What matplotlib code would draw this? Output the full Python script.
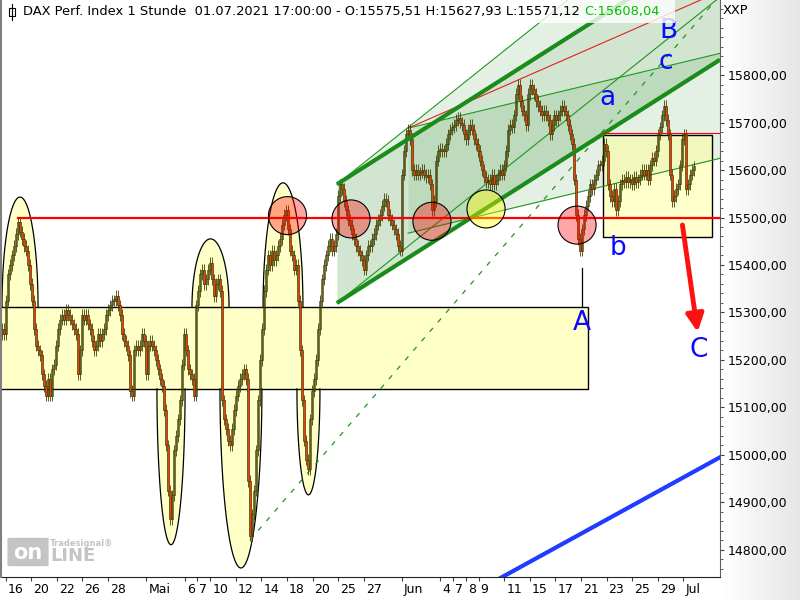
import numpy as np
import matplotlib.pyplot as plt
from matplotlib.patches import Ellipse, Polygon, Rectangle, FancyBboxPatch
from matplotlib.lines import Line2D
from matplotlib.transforms import offset_copy

# closes, one value every ~1.5 trading hours (16.04. - 01.07.2021)
closes = [
    15255, 15265, 15255, 15325, 15380, 15400, 15420, 15440, 15465, 15490,
    15470, 15455, 15440, 15430, 15400, 15360, 15325, 15265, 15230, 15220,
    15210, 15170, 15145, 15125, 15160, 15125, 15180, 15190, 15230, 15265,
    15285, 15295, 15285, 15305, 15295, 15285, 15275, 15265, 15255, 15170,
    15220, 15295, 15285, 15295, 15275, 15265, 15240, 15220, 15230, 15255,
    15240, 15255, 15265, 15295, 15305, 15315, 15325, 15325, 15335, 15315,
    15295, 15255, 15240, 15230, 15210, 15135, 15125, 15220, 15230, 15220,
    15230, 15255, 15240, 15170, 15230, 15240, 15230, 15220, 15200, 15180,
    15160, 15145, 15095, 15020, 14925, 14865, 14915, 15010, 15040, 15075,
    15115, 15190, 15255, 15220, 15180, 15170, 15160, 15125, 15315, 15345,
    15380, 15390, 15360, 15370, 15390, 15405, 15370, 15335, 15360, 15370,
    15345, 15115, 15075, 15055, 15030, 15020, 15055, 15095, 15125, 15145,
    15160, 15170, 15180, 15160, 14945, 14830, 14875, 14925, 15010, 15115,
    15200, 15265, 15345, 15390, 15420, 15400, 15430, 15410, 15420, 15440,
    15455, 15485, 15505, 15515, 15475, 15430, 15420, 15390, 15400, 15325,
    15220, 15115, 15030, 14990, 14970, 15075, 15135, 15160, 15200, 15265,
    15325, 15370, 15400, 15420, 15440, 15455, 15430, 15440, 15465, 15545,
    15570, 15560, 15535, 15515, 15495, 15485, 15465, 15455, 15440, 15430,
    15420, 15410, 15390, 15420, 15440, 15440, 15455, 15465, 15485, 15495,
    15505, 15525, 15540, 15535, 15505, 15495, 15485, 15475, 15465, 15440,
    15430, 15590, 15640, 15675, 15685, 15665, 15600, 15590, 15600, 15590,
    15595, 15600, 15590, 15585, 15590, 15570, 15515, 15535, 15620, 15640,
    15645, 15640, 15640, 15655, 15675, 15685, 15690, 15695, 15705, 15710,
    15700, 15695, 15675, 15665, 15685, 15695, 15685, 15665, 15655, 15640,
    15620, 15600, 15585, 15575, 15580, 15570, 15590, 15570, 15580, 15590,
    15600, 15590, 15610, 15640, 15685, 15695, 15690, 15715, 15760, 15780,
    15745, 15725, 15715, 15695, 15760, 15780, 15770, 15760, 15745, 15735,
    15725, 15715, 15725, 15715, 15705, 15675, 15695, 15715, 15705, 15715,
    15725, 15735, 15725, 15715, 15695, 15675, 15655, 15580, 15505, 15455,
    15430, 15475, 15505, 15525, 15545, 15570, 15560, 15580, 15590, 15610,
    15610, 15620, 15655, 15640, 15570, 15545, 15535, 15560, 15515, 15535,
    15570, 15580, 15575, 15585, 15575, 15580, 15570, 15585, 15575, 15580,
    15590, 15600, 15590, 15600, 15580, 15610, 15625, 15620, 15640, 15675,
    15690, 15715, 15735, 15705, 15675, 15590, 15535, 15545, 15560, 15570,
    15610, 15665, 15675, 15560, 15570, 15590, 15600, 15608,
]

# x axis in trading days counted from 16.04.
day_ticks = [0, 2, 4, 6, 8, 11, 14, 15, 16, 18, 20, 22, 24, 26, 28,
             31, 34, 35, 36, 37, 39, 41, 43, 45, 47, 49, 51, 53]
day_labels = ['16', '20', '22', '26', '28', 'Mai', '6', '7', '10', '12', '14', '18', '20', '25', '27',
              'Jun', '4', '7', '8', '9', '11', '15', '17', '21', '23', '25', '29', 'Jul']
price_ticks = list(range(14800, 15801, 100))

header = 'DAX Perf. Index 1 Stunde  01.07.2021 17:00:00 - O:15575,51 H:15627,93 L:15571,12 '
header_close = 'C:15608,04'

# drawings (day, price)
support = 15500
zone_top, zone_bottom, zone_end = 15311, 15139, 45.55
bumps_up = [(1.12, 1.41, 15543), (16.02, 1.45, 15455), (21.69, 1.56, 15573)]
bumps_down = [(12.93, 1.10, 14811), (18.40, 1.64, 14762), (23.68, 0.90, 14916)]
red_circles = [(22.04, 15504), (27.01, 15497), (33.34, 15492), (44.69, 15484)]
yellow_circles = [(37.57, 15518)]
channel_start, channel_low, channel_width, channel_slope = 25.91, 15320, 250, 17.1
fan_slope = 21.5
fork_start, fork_top, fork_bottom, fork_slope, fork_red_slope = 31.47, 15688, 15467, 6.46, 11.8
dash_start, dash_price, dash_slope = 19.11, 14821, 31.2
box_b = (46.72, 55.24, 15459, 15674)
blue_start, blue_price, blue_slope = 38.5, 14738, 14.8
wave_labels = [('B', 51.8, 15893), ('c', 51.65, 15827), ('a', 47.07, 15752),
               ('b', 47.89, 15436), ('A', 45.08, 15278), ('C', 54.23, 15221)]

X0, X1 = -0.446, 55.87
Y0, Y1 = 14743, 15958
bar_step = 0.1564

fig = plt.figure(figsize=(8, 6), dpi=100)
bg = fig.add_axes([0, 0, 1, 1], zorder=-10)
grad = np.ones((2, 800))
grad[:, 720:] = np.linspace(1.0, 0.9, 80)
bg.imshow(grad, extent=[0, 1, 0, 1], aspect='auto', cmap='gray', vmin=0, vmax=1)
bg.axis('off')

ax = fig.add_axes([0, 23 / 600, 0.9, 577 / 600])
ax.set_facecolor('white')
ax.set_xlim(X0, X1)
ax.set_ylim(Y0, Y1)

# yellow zone and half ellipses
ax.add_patch(Rectangle((X0, zone_bottom), zone_end - X0, zone_top - zone_bottom,
                       facecolor='#ffffc8', edgecolor='black', lw=1, zorder=1.2))
t = np.linspace(0, np.pi, 80)
for cx, hw, tip in bumps_up:
    xs, ys = cx + hw * np.cos(t), zone_top + (tip - zone_top) * np.sin(t)
    ax.add_patch(Polygon(np.column_stack([xs, ys]), facecolor='#ffffc8', edgecolor='none', zorder=1.1))
    ax.plot(xs, ys, color='black', lw=0.9, zorder=1.3)
for cx, hw, tip in bumps_down:
    xs, ys = cx + hw * np.cos(t), zone_bottom - (zone_bottom - tip) * np.sin(t)
    ax.add_patch(Polygon(np.column_stack([xs, ys]), facecolor='#ffffc8', edgecolor='none', zorder=1.1))
    ax.plot(xs, ys, color='black', lw=0.9, zorder=1.3)

# green channel and fans
green = '#2e8b2e'
xg = np.linspace(channel_start, X1, 200)
low = channel_low + channel_slope * (xg - channel_start)
up = low + channel_width
outer = channel_low + channel_width + fan_slope * (xg - channel_start)
fan2 = channel_low + fan_slope * (xg - channel_start)
ax.fill_between(xg, low, up, color=green, alpha=0.22, lw=0, zorder=1.5)
ax.fill_between(xg, up, outer, color=green, alpha=0.12, lw=0, zorder=1.5)
xf = np.linspace(fork_start, X1, 200)
f_top = fork_top + fork_slope * (xf - fork_start)
f_bot = fork_bottom + fork_slope * (xf - fork_start)
ax.fill_between(xf, f_bot, f_top, color=green, alpha=0.12, lw=0, zorder=1.5)

ax.add_patch(Rectangle((box_b[0], box_b[2]), box_b[1] - box_b[0], box_b[3] - box_b[2],
                       facecolor='#ffff99', alpha=0.5, edgecolor='none', zorder=1.6))
ax.add_patch(Rectangle((box_b[0], box_b[2]), box_b[1] - box_b[0], box_b[3] - box_b[2],
                       facecolor='none', edgecolor='black', lw=1, zorder=1.7))

ax.plot(xg, outer, color='#1e961e', lw=0.8, zorder=2.5)
ax.plot(xg, fan2, color='#1e961e', lw=0.8, zorder=2.5)
ax.plot(xf, f_top, color='#1e961e', lw=0.8, zorder=2.5)
ax.plot(xf, f_bot, color='#1e961e', lw=0.8, zorder=2.5)
ax.plot(xf, fork_top + fork_red_slope * (xf - fork_start), color='#e02020', lw=0.8, zorder=2.5)
xd = np.linspace(dash_start, X1, 200)
ax.plot(xd, dash_price + dash_slope * (xd - dash_start), color='#1e961e', lw=0.9,
        ls=(0, (4, 6)), zorder=2.5)

# candles
c = np.array(closes, dtype=float)
o = np.concatenate([[c[0]], c[:-1]])
x = X0 + bar_step * np.arange(len(c))
hi, lo = np.maximum(o, c), np.minimum(o, c)
edge = '#403f00'
wick = 12
ax.vlines(x, lo - wick, hi + wick, color=edge, lw=0.6, zorder=3)
rising = c >= o
body = np.maximum(hi - lo, 3)
ax.bar(x[rising], body[rising], bottom=lo[rising], width=0.2,
       facecolor='none', edgecolor=edge, lw=0.5, zorder=3.1)
ax.bar(x[~rising], body[~rising], bottom=lo[~rising], width=0.2,
       facecolor='#f23c0c', edgecolor=edge, lw=0.5, zorder=3.2)

# thick channel lines, support, markers
ax.plot(xg, low, color='#1a8c1a', lw=3, zorder=4, solid_capstyle='butt')
ax.plot(xg, up, color='#1a8c1a', lw=3, zorder=4, solid_capstyle='butt')
ax.plot([0.962, X1], [support, support], color='#ff0000', lw=1.6, zorder=4)
ax.plot([box_b[0], X1], [box_b[3] + 4, box_b[3] + 4], color='#ff0000', lw=0.8, zorder=4)
ax.plot([45.08, 45.08], [zone_top, 15394], color='black', lw=0.9, zorder=4)
for cx, cy in red_circles:
    ax.add_patch(Ellipse((cx, cy), 2 * 1.49, 80, facecolor=(1, 0, 0, 0.35), edgecolor='black', lw=0.8, zorder=4.5))
for cx, cy in yellow_circles:
    ax.add_patch(Ellipse((cx, cy), 2 * 1.49, 80, facecolor=(1, 1, 0, 0.4), edgecolor='black', lw=0.8, zorder=4.5))

xb = np.array([blue_start, X1])
ax.plot(xb, blue_price + blue_slope * (xb - blue_start), color='#1f3cff', lw=3, zorder=5)
ax.annotate('', xy=(54.15, 15253), xytext=(52.9, 15490),
            arrowprops=dict(arrowstyle='-|>', color='#ff1010', lw=3.5, mutation_scale=26), zorder=5)
for s, lx, ly in wave_labels:
    ax.text(lx, ly, s, color='#0a0aff', fontsize=19, ha='center', va='center', zorder=5)

# axes styling
for side in ['top', 'left']:
    ax.spines[side].set_visible(False)
ax.spines['bottom'].set_color('#202020')
ax.spines['right'].set_color('#606060')
ax.yaxis.tick_right()
ax.set_yticks(price_ticks)
ax.set_yticklabels([f'{p:.2f}'.replace('.', ',') for p in price_ticks])
ax.set_yticks(np.arange(14760, 15960, 20), minor=True)
ax.tick_params(axis='y', which='major', length=3, pad=2.5, labelsize=9, color='#404040')
ax.tick_params(axis='y', which='minor', length=2, color='#404040')
ax.set_xticks(day_ticks)
ax.set_xticklabels([])
ax.tick_params(axis='x', length=3, color='#404040')
lab_tr = offset_copy(ax.get_xaxis_transform(), fig=fig, x=2, y=-6, units='dots')
for d, s in zip(day_ticks, day_labels):
    ax.text(d, 0, s, transform=lab_tr, ha='left', va='top', fontsize=9)

# header line
fig.add_artist(Rectangle((0, 1 - 23 / 600), 675 / 800, 23 / 600, transform=fig.transFigure,
                         facecolor='white', alpha=0.8, edgecolor='none'))
fig.add_artist(Line2D([12 / 800, 12 / 800], [1 - 20 / 600, 1 - 4 / 600], color='black', lw=0.8))
fig.add_artist(Rectangle((9 / 800, 1 - 16 / 600), 6 / 800, 8 / 600, transform=fig.transFigure,
                         facecolor='white', edgecolor='black', lw=0.8))
ht = fig.text(23 / 800, 1 - 11 / 600, header, fontsize=9.4, va='center', ha='left')
fig.canvas.draw()
bb = ht.get_window_extent()
fig.text(bb.x1 / 800, 1 - 11 / 600, header_close, fontsize=9.4, va='center', ha='left', color='#00c000')
fig.text(723 / 800, 1 - 11 / 600, 'XXP', fontsize=9.4, va='center', ha='left')

# left border and watermark
fig.add_artist(Line2D([0.001, 0.001], [23 / 600, 1], color='#808080', lw=1.5))
fig.add_artist(FancyBboxPatch((9 / 800, 1 - 565 / 600), 38 / 800, 26 / 600, transform=fig.transFigure,
                              boxstyle='round,pad=0.002', facecolor='#c4c4c4', edgecolor='none'))
fig.text(28 / 800, 1 - 553 / 600, 'on', fontsize=15, fontweight='bold', color='white', ha='center', va='center')
fig.text(50 / 800, 1 - 556 / 600, 'LINE', fontsize=13, fontweight='bold', color='#c4c4c4', ha='left', va='center')
fig.text(50 / 800, 1 - 543 / 600, 'Tradesignal\u00ae', fontsize=6, fontweight='bold', color='#c4c4c4', ha='left', va='center')

fig.savefig('out.png', dpi=100)
